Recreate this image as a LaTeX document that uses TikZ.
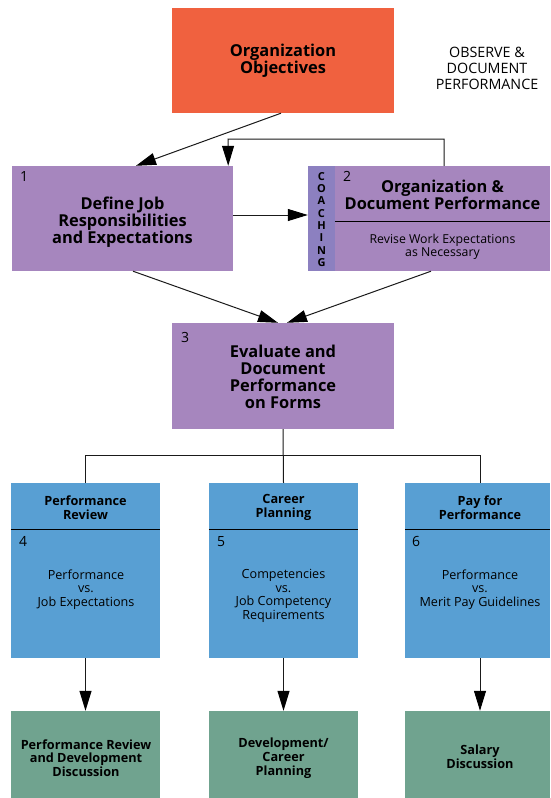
\documentclass[tikz,border=0pt]{standalone}
\usepackage{fontspec}
\setmainfont{Open Sans}
\usetikzlibrary{arrows.meta,calc}
\definecolor{oorange}{HTML}{F0613F}
\definecolor{opurple}{HTML}{A686BE}
\definecolor{ocoach}{HTML}{8C80C0}
\definecolor{oblue}{HTML}{589FD3}
\definecolor{ogreen}{HTML}{70A38F}
\definecolor{oline}{HTML}{1A1A1A}
\begin{document}
\begin{tikzpicture}[x=1pt,y=-1pt,
  box/.style={rectangle,inner sep=0pt,draw=none},
  txt/.style={inner sep=0pt,align=center,text=black},
  bighead/.style={txt,font=\bfseries\fontsize{16.4}{17}\selectfont},
  smallhead/.style={txt,font=\bfseries\fontsize{12.7}{13.8}\selectfont},
  bodytxt/.style={txt,font=\fontsize{12.6}{13.6}\selectfont},
  revtxt/.style={txt,font=\fontsize{12.3}{12.4}\selectfont},
  greentxt/.style={txt,font=\bfseries\fontsize{12.7}{13.8}\selectfont},
  numtxt/.style={inner sep=0pt,anchor=base west,font=\fontsize{14}{14}\selectfont},
  conn/.style={draw=oline,line width=1pt},
  arr/.style={conn,-{Triangle[length=20pt,width=12pt,fill=black,color=black]}},
  divider/.style={draw=black,line width=1pt}]
\useasboundingbox (0,0) rectangle (550,798);
\fill[white] (0,0) rectangle (550,798);

% top
\node[box,fill=oorange,minimum width=222pt,minimum height=105pt] (oo) at (283,60.5) {};
\node[bighead] (ootxt) at (283,60.5) {Organization\\Objectives};
\node[txt,font=\fontsize{14.3}{15.8}\selectfont] (obs) at (487,68.5) {OBSERVE \&\\DOCUMENT\\PERFORMANCE};

% box 1
\node[box,fill=opurple,minimum width=221pt,minimum height=105pt] (b1) at (122.5,218.5) {};
\node[numtxt] (n1) at (20,181.5) {1};
\node[bighead] (b1txt) at (122.5,222) {Define Job\\Responsibilities\\and Expectations};

% coaching + box 2
\node[box,fill=ocoach,minimum width=27pt,minimum height=105pt] (co) at (321.5,218.5) {};
\node[txt,font=\bfseries\fontsize{11}{12.3}\selectfont] (cotxt) at (321.5,219.5) {C\\O\\A\\C\\H\\I\\N\\G};
\node[box,fill=opurple,minimum width=215pt,minimum height=105pt] (b2) at (442.5,218.5) {};
\node[numtxt] (n2) at (343,181.5) {2};
\node[bighead] (b2txt) at (442.5,195) {Organization \&\\Document Performance};
\draw[divider] ([yshift=-2.5pt]b2.west) -- ([yshift=-2.5pt]b2.east);
\node[revtxt] (b2sub) at (442.5,247) {Revise Work Expectations\\as Necessary};

% box 3
\node[box,fill=opurple,minimum width=222pt,minimum height=106pt] (b3) at (283,376) {};
\node[numtxt] (n3) at (181,342) {3};
\node[bighead] (b3txt) at (283,376.5) {Evaluate and\\Document\\Performance\\on Forms};

% boxes 4-6
\node[box,fill=oblue,minimum width=149pt,minimum height=175pt] (b4) at (85.5,570.5) {};
\node[box,fill=oblue,minimum width=149pt,minimum height=175pt] (b5) at (283.5,570.5) {};
\node[box,fill=oblue,minimum width=145pt,minimum height=175pt] (b6) at (477.5,570.5) {};
\foreach \b in {b4,b5,b6}{\draw[divider] ([yshift=41.5pt]\b.west) -- ([yshift=41.5pt]\b.east);}
\node[smallhead] (h4) at (85.5,507.5) {Performance\\Review};
\node[smallhead] (h5) at (283.5,507.5) {Career\\Planning};
\node[smallhead] (h6) at (480,507.5) {Pay for\\Performance};
\node[numtxt] (n4) at (19,546.5) {4};
\node[numtxt] (n5) at (217,546.5) {5};
\node[numtxt] (n6) at (412,546.5) {6};
\node[bodytxt] (t4) at (86,589.5) {Performance\\vs.\\Job Expectations};
\node[bodytxt] (t5) at (283.5,596) {Competencies\\vs.\\Job Competency\\Requirements};
\node[bodytxt] (t6) at (480,589.5) {Performance\\vs.\\Merit Pay Guidelines};

% green boxes
\node[box,fill=ogreen,minimum width=149pt,minimum height=87pt] (g4) at (85.5,754.5) {};
\node[box,fill=ogreen,minimum width=149pt,minimum height=87pt] (g5) at (283.5,754.5) {};
\node[box,fill=ogreen,minimum width=145pt,minimum height=87pt] (g6) at (477.5,754.5) {};
\node[greentxt] (gt4) at (86,758) {Performance Review\\and Development\\Discussion};
\node[greentxt] (gt5) at (283.5,758) {Development/\\Career\\Planning};
\node[greentxt] (gt6) at (480,757) {Salary\\Discussion};

% connectors
\coordinate (fbR) at (444,139);
\coordinate (fbL) at (228,139);
\draw[arr] ([xshift=-2pt]oo.south) -- ([xshift=13.5pt]b1.north);
\draw[arr] ([xshift=1.5pt]b2.north) -- (fbR) -- (fbL) -- ([xshift=-5pt]b1.north east);
\draw[arr] ([yshift=3.5pt]b1.east) -- ([yshift=3.5pt]co.west);
\draw[arr] ([xshift=10.5pt]b1.south) -- ([xshift=-5pt]b3.north);
\draw[arr] ([xshift=-11.5pt]b2.south) -- ([xshift=4pt]b3.north);
\draw[conn] (b3.south) -- (b5.north);
\draw[conn] (b4.north) -- ++(0,-27) -| ([xshift=2.5pt]b6.north);
\draw[arr] (b4.south) -- (g4.north);
\draw[arr] (b5.south) -- (g5.north);
\draw[arr] ([xshift=2.5pt]b6.south) -- ([xshift=2.5pt]g6.north);
\end{tikzpicture}
\end{document}
